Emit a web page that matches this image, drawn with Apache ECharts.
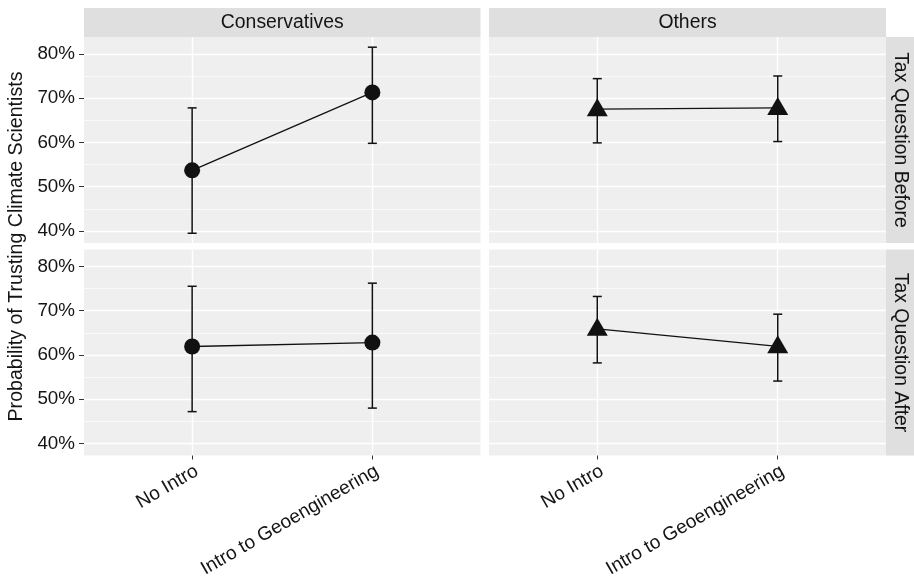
<!DOCTYPE html>
<html>
<head>
<meta charset="utf-8">
<script src="https://cdn.jsdelivr.net/npm/echarts@6/dist/echarts.min.js"></script>
<style>
  html, body { margin: 0; padding: 0; background: #ffffff; }
  #chart { width: 914px; height: 582px; }
</style>
</head>
<body>
<div id="chart"></div>
<script>
// ---- Data ----
const categories = ['No Intro', 'Intro to Geoengineering'];
const columnLabels = ['Conservatives', 'Others'];
const rowLabels = ['Tax Question Before', 'Tax Question After'];
const yTicks = [40, 50, 60, 70, 80];
const yMinorTicks = [45, 55, 65, 75];

const consBeforeMean = [53.7, 71.3];
const consBeforeLow  = [39.5, 59.8];
const consBeforeHigh = [67.8, 81.5];

const othBeforeMean = [67.5, 67.8];
const othBeforeLow  = [59.9, 60.2];
const othBeforeHigh = [74.4, 75.0];

const consAfterMean = [61.9, 62.8];
const consAfterLow  = [47.2, 48.0];
const consAfterHigh = [75.5, 76.2];

const othAfterMean = [65.9, 61.95];
const othAfterLow  = [58.2, 54.1];
const othAfterHigh = [73.2, 69.2];

// ---- Layout / style ----
const FONT = "'Liberation Sans', Arial, Helvetica, sans-serif";
const Y_MIN = 37.3, Y_MAX = 83.8;
const X_MIN = -0.6, X_MAX = 1.6;
const PANEL_BG = '#EFEFEF';
const STRIP_BG = '#DFDFDF';
const INK = '#111111';
const TEXT = '#141414';

const colLeft = [84, 489];
const colWidth = [396.5, 397];
const rowTop = [37, 249.5];
const rowHeight = [206, 206];

const panels = [
  { col: 0, row: 0, mean: consBeforeMean, low: consBeforeLow, high: consBeforeHigh, shape: 'circle' },
  { col: 1, row: 0, mean: othBeforeMean,  low: othBeforeLow,  high: othBeforeHigh,  shape: 'triangle' },
  { col: 0, row: 1, mean: consAfterMean,  low: consAfterLow,  high: consAfterHigh,  shape: 'circle' },
  { col: 1, row: 1, mean: othAfterMean,   low: othAfterLow,   high: othAfterHigh,   shape: 'triangle' }
];

const grid = [], xAxis = [], yAxis = [], series = [];

panels.forEach((p, i) => {
  const showY = p.col === 0;
  const showX = p.row === 1;
  grid.push({
    left: colLeft[p.col], top: rowTop[p.row],
    width: colWidth[p.col], height: rowHeight[p.row],
    show: true, backgroundColor: PANEL_BG, borderWidth: 0
  });
  xAxis.push({
    gridIndex: i, type: 'value', min: X_MIN, max: X_MAX, position: 'bottom',
    axisLine: { show: false, onZero: false },
    axisTick: { show: true, customValues: [0, 1], length: 4,
      lineStyle: { color: '#333333', width: 1, opacity: showX ? 1 : 0 } },
    axisLabel: { show: showX, customValues: [0, 1], rotate: 30,
      align: 'right', verticalAlign: 'top', margin: 6,
      formatter: v => categories[Math.round(v)],
      color: TEXT, fontSize: 19.2, fontFamily: FONT },
    splitLine: { show: true, lineStyle: { color: '#ffffff', width: 1.4 } }
  });
  // major y axis
  yAxis.push({
    gridIndex: i, type: 'value', min: Y_MIN, max: Y_MAX, position: 'left',
    axisLine: { show: false, onZero: false },
    axisTick: { show: true, customValues: yTicks, length: 5,
      lineStyle: { color: '#333333', width: 1, opacity: showY ? 1 : 0 } },
    axisLabel: { show: showY, customValues: yTicks, margin: 9,
      formatter: v => v + '%', color: TEXT, fontSize: 18.8, fontFamily: FONT },
    splitLine: { show: true, lineStyle: { color: '#ffffff', width: 1.4 } }
  });
});
// minor y axes (second y axis per grid)
panels.forEach((p, i) => {
  yAxis.push({
    gridIndex: i, type: 'value', min: Y_MIN, max: Y_MAX, position: 'right',
    axisLine: { show: false, onZero: false },
    axisTick: { show: true, customValues: yMinorTicks, length: 0, lineStyle: { opacity: 0 } },
    axisLabel: { show: false, customValues: yMinorTicks },
    splitLine: { show: true, lineStyle: { color: '#ffffff', width: 0.7 } }
  });
});

panels.forEach((p, i) => {
  const barData = p.mean.map((m, k) => [k, p.low[k], p.high[k]]);
  series.push({
    type: 'custom', xAxisIndex: i, yAxisIndex: i, z: 3, silent: true,
    data: barData,
    encode: { x: 0, y: [1, 2] },
    renderItem: (params, api) => {
      const x = api.value(0);
      const lo = api.coord([x, api.value(1)]);
      const hi = api.coord([x, api.value(2)]);
      const hw = 4.5;
      const style = { stroke: INK, lineWidth: 1.5 };
      return {
        type: 'group',
        children: [
          { type: 'line', shape: { x1: lo[0], y1: lo[1], x2: hi[0], y2: hi[1] }, style },
          { type: 'line', shape: { x1: lo[0] - hw, y1: lo[1], x2: lo[0] + hw, y2: lo[1] }, style },
          { type: 'line', shape: { x1: hi[0] - hw, y1: hi[1], x2: hi[0] + hw, y2: hi[1] }, style }
        ]
      };
    }
  });
  series.push({
    type: 'line', xAxisIndex: i, yAxisIndex: i, z: 4, silent: true,
    data: p.mean.map((m, k) => [k, m]),
    symbol: p.shape,
    symbolSize: p.shape === 'circle' ? 16 : [21, 18],
    symbolOffset: p.shape === 'circle' ? [0, 0] : [0, -2],
    showSymbol: true,
    itemStyle: { color: INK, borderWidth: 0 },
    lineStyle: { color: INK, width: 1.3 },
    animation: false
  });
});

const graphic = [
  // y axis title
  { type: 'text', x: 17, y: 246.5, rotation: Math.PI / 2,
    style: { text: 'Probability of Trusting Climate Scientists', x: 0, y: 0,
      align: 'center', verticalAlign: 'middle', fill: TEXT, fontSize: 19.6, fontFamily: FONT } }
];
// top strips
[0, 1].forEach(c => {
  graphic.push({ type: 'rect', shape: { x: colLeft[c], y: 8, width: colWidth[c], height: 29 },
    style: { fill: STRIP_BG }, silent: true });
  graphic.push({ type: 'text', x: colLeft[c] + colWidth[c] / 2, y: 22.5,
    style: { text: columnLabels[c], align: 'center', verticalAlign: 'middle',
      fill: TEXT, fontSize: 19.4, fontFamily: FONT } });
});
// right strips
[0, 1].forEach(r => {
  const sx = colLeft[1] + colWidth[1];
  graphic.push({ type: 'rect', shape: { x: sx, y: rowTop[r], width: 28, height: rowHeight[r] },
    style: { fill: STRIP_BG }, silent: true });
  graphic.push({ type: 'text', x: sx + 14, y: rowTop[r] + rowHeight[r] / 2, rotation: -Math.PI / 2,
    style: { text: rowLabels[r], align: 'center', verticalAlign: 'middle',
      fill: TEXT, fontSize: 19.4, fontFamily: FONT } });
});

const chart = echarts.init(document.getElementById('chart'), null, { renderer: 'canvas' });
chart.setOption({
  animation: false,
  backgroundColor: '#ffffff',
  grid, xAxis, yAxis, series, graphic
});
</script>
</body>
</html>
